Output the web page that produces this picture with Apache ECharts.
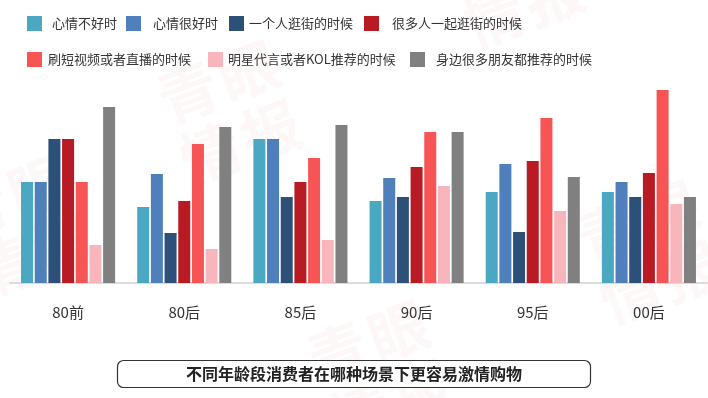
<!DOCTYPE html>
<html>
<head>
<meta charset="utf-8">
<script src="https://cdn.jsdelivr.net/npm/echarts@6/dist/echarts.min.js"></script>
<style>
  html, body { margin: 0; padding: 0; background: #fff; }
  #chart { width: 708px; height: 398px; }
</style>
</head>
<body>
<div id="chart"></div>
<script>
'use strict';

var categories = ['80前', '80后', '85后', '90后', '95后', '00后'];
var seriesNames = ['心情不好时', '心情很好时', '一个人逛街的时候', '很多人一起逛街的时候',
    '刷短视频或者直播的时候', '明星代言或者KOL推荐的时候', '身边很多朋友都推荐的时候'];

var badMood = [101, 76, 144, 82, 91, 91];
var goodMood = [101, 109, 144, 105, 119, 101];
var shopAlone = [144, 50, 86, 86, 51, 86];
var shopGroup = [144, 82, 101, 116, 122, 110];
var shortVideo = [101, 139, 125, 151, 165, 193];
var starKol = [38, 34, 43, 97, 72, 79];
var friends = [176, 156, 158, 151, 106, 86];

var colors = ['#4AA8C3', '#4F80BB', '#2D5078', '#B91B24', '#F75455', '#F8B6BC', '#808080'];

// legend positions: [left, top, gap between icon and text]
var legendPos = [
    [27, 16, 10], [126, 16, 12], [229, 16, 5], [364, 16, 13],
    [27, 52, 6], [208, 52, 5], [410, 52, 11]
];

// watermark "青眼情报", 2x2 block tilted up to the right
function watermark(ox, oy) {
    var chars = ['青', '眼', '情', '报'];
    return {
        type: 'group',
        x: ox,
        y: oy,
        rotation: 0.35,
        z: -10,
        silent: true,
        children: chars.map(function (c, i) {
            return {
                type: 'text',
                x: (i % 2) * 64,
                y: Math.floor(i / 2) * 64,
                style: {
                    text: c,
                    font: 'bold 60px "Noto Sans CJK SC"',
                    fill: 'rgba(235, 90, 90, 0.05)'
                }
            };
        })
    };
}

function floatchart() {
    var myChart = echarts.init(document.getElementById('chart'));
    var data = [badMood, goodMood, shopAlone, shopGroup, shortVideo, starKol, friends];

    var option = {
        animation: false,
        color: colors,
        textStyle: {
            fontFamily: '"Noto Sans CJK SC", sans-serif'
        },
        legend: legendPos.map(function (p, i) {
            return {
                data: [seriesNames[i]],
                left: p[0],
                top: p[1],
                icon: 'rect',
                itemWidth: 15,
                itemHeight: 15,
                padding: 0,
                selectedMode: false,
                textStyle: {
                    fontSize: 13,
                    color: '#333',
                    padding: [0, 0, 0, p[2] - 5]
                }
            };
        }),
        grid: {
            top: 83,
            left: 10,
            right: 1,
            bottom: 115,
            containLabel: false
        },
        xAxis: {
            type: 'category',
            data: categories,
            axisTick: {show: false},
            axisLine: {lineStyle: {color: '#dcdcdc', width: 2}},
            axisLabel: {fontSize: 15, color: '#333', margin: 22}
        },
        yAxis: {
            type: 'value',
            min: 0,
            max: 200,
            show: false
        },
        graphic: [
            watermark(150, 75),
            watermark(433, -61),
            watermark(300, 335),
            watermark(570, 215),
            watermark(-60, 190),
            {
                type: 'rect',
                shape: {x: 117.5, y: 360.5, width: 473, height: 27, r: 6},
                style: {fill: '#fff', stroke: '#333', lineWidth: 1.2}
            },
            {
                type: 'text',
                x: 354,
                y: 374,
                style: {
                    text: '不同年龄段消费者在哪种场景下更容易激情购物',
                    font: 'bold 16px "Noto Sans CJK SC"',
                    fill: '#222',
                    align: 'center',
                    verticalAlign: 'middle'
                }
            }
        ],
        series: data.map(function (d, i) {
            return {
                name: seriesNames[i],
                type: 'bar',
                data: d,
                barWidth: 12,
                barGap: '14%'
            };
        })
    };

    myChart.setOption(option);
    window.onresize = function () {
        myChart.resize();
    };
}

floatchart();
</script>
</body>
</html>
